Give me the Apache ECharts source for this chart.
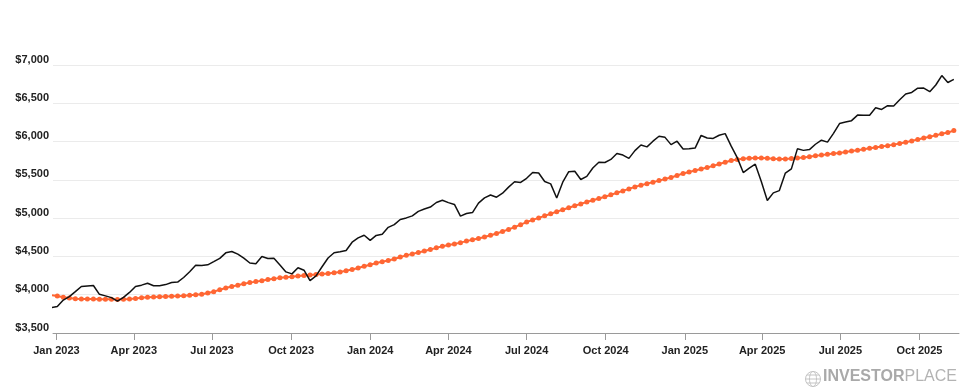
<!DOCTYPE html>
<html><head><meta charset="utf-8">
<script src="https://cdn.jsdelivr.net/npm/echarts@6/dist/echarts.min.js"></script>
<style>html,body{margin:0;padding:0;background:#fff}#c{width:975px;height:390px}</style>
</head><body><div id="c"></div>
<script>
// Weekly points (week starting Monday), first week below
const firstWeek = '2022-12-26';

// S&P 500 weekly level (black line)
const closes = [
  3830, 3845, 3930, 3975, 4040, 4108, 4115, 4120, 4005, 3985,
  3962, 3915, 3965, 4030, 4108, 4125, 4150, 4117, 4117, 4132,
  4159, 4165, 4225, 4300, 4384, 4380, 4390, 4432, 4475, 4547,
  4565, 4530, 4478, 4414, 4405, 4498, 4472, 4475, 4388, 4298,
  4272, 4352, 4320, 4185, 4245, 4365, 4480, 4548, 4562, 4578,
  4686, 4742, 4777,
  4709, 4774, 4790, 4880, 4915, 4983, 5003, 5030, 5088, 5119,
  5145, 5204, 5233, 5203, 5179, 5026, 5060, 5073, 5196, 5265,
  5302, 5273, 5326, 5405, 5475, 5467, 5520, 5597, 5590, 5478,
  5448, 5262, 5470, 5606, 5612, 5505, 5545, 5655, 5730, 5727,
  5767, 5845, 5824, 5780, 5882, 5956, 5931, 6005, 6070, 6055,
  5960, 6005, 5902,
  5907, 5915, 6080, 6046, 6041, 6083, 6104, 5940, 5790, 5595,
  5652, 5704, 5478, 5230, 5330, 5360, 5588, 5643, 5905, 5885,
  5895, 5965, 6018, 5993, 6108, 6235, 6255, 6273, 6346, 6343,
  6345, 6442, 6420, 6469, 6465, 6547, 6622, 6642, 6697, 6698,
  6652, 6739, 6862, 6772, 6812
];

// Moving average (orange dotted line)
const movingAvg = [
  3995, 3982, 3966, 3958, 3947, 3945, 3944, 3943, 3942, 3941,
  3940, 3938, 3940, 3944, 3952, 3960, 3966, 3970, 3974, 3977,
  3980, 3982, 3986, 3992, 3999, 4006, 4022, 4040, 4065, 4088,
  4108, 4125, 4143, 4158, 4171, 4183, 4198, 4207, 4220, 4228,
  4236, 4244, 4252, 4259, 4265, 4271, 4277, 4286, 4297, 4313,
  4329, 4350, 4372, 4392, 4413, 4430, 4446, 4467, 4492, 4514,
  4533, 4552, 4571, 4591, 4612, 4632, 4650, 4663, 4680, 4700,
  4719, 4735, 4753, 4776, 4799, 4825, 4853, 4882, 4915, 4948,
  4977, 5003, 5030, 5058, 5085, 5110, 5135, 5161, 5186, 5210,
  5234, 5257, 5280, 5304, 5331, 5356, 5382, 5408, 5431, 5450,
  5470, 5490, 5510, 5530, 5557, 5584, 5603, 5622, 5642, 5661,
  5683, 5708, 5730, 5752, 5765, 5775, 5781, 5784, 5784, 5781,
  5775, 5772, 5772, 5778, 5785, 5792, 5803, 5814, 5823, 5833,
  5843, 5852, 5864, 5877, 5888, 5900, 5912, 5923, 5935, 5947,
  5960, 5975, 5990, 6009, 6028, 6046, 6062, 6081, 6101, 6118,
  6143
];

const tickDates = ['2023-01-01','2023-04-01','2023-07-01','2023-10-01',
  '2024-01-01','2024-04-01','2024-07-01','2024-10-01',
  '2025-01-01','2025-04-01','2025-07-01','2025-10-01'];
const tickLabels = ['Jan 2023','Apr 2023','Jul 2023','Oct 2023',
  'Jan 2024','Apr 2024','Jul 2024','Oct 2024',
  'Jan 2025','Apr 2025','Jul 2025','Oct 2025'];
const axisStart = '2022-12-28';
const axisEnd = '2025-11-16';

function ts(s){ const p = s.split('-'); return Date.UTC(+p[0], +p[1]-1, +p[2]); }
const WEEK = 7 * 864e5;
const weekTs = closes.map((_, i) => ts(firstWeek) + i * WEEK);
const tickTs = tickDates.map(ts);

const FONT = "'Liberation Sans', Arial, sans-serif";
const chart = echarts.init(document.getElementById('c'), null, {renderer: 'canvas'});
chart.setOption({
  animation: false,
  backgroundColor: '#ffffff',
  grid: {left: 53, right: 16, top: 65, bottom: 57, containLabel: false},
  xAxis: {
    type: 'value',
    min: ts(axisStart),
    max: ts(axisEnd),
    axisLine: {show: true, lineStyle: {color: '#9a9a9a', width: 1}},
    axisTick: {show: true, customValues: tickTs, length: 7, lineStyle: {color: '#9a9a9a', width: 1}},
    axisLabel: {
      customValues: tickTs,
      formatter: function (v) {
        let best = 0, bd = Infinity;
        tickTs.forEach((t, i) => { const d = Math.abs(t - v); if (d < bd) { bd = d; best = i; } });
        return tickLabels[best];
      },
      color: '#222', fontWeight: 'bold', fontSize: 11, fontFamily: FONT, margin: 12
    },
    splitLine: {show: false}
  },
  yAxis: {
    type: 'value',
    min: 3500, max: 7000, interval: 500,
    axisLine: {show: false},
    axisTick: {show: false},
    axisLabel: {
      formatter: v => '$' + v.toLocaleString('en-US'),
      color: '#222', fontWeight: 'bold', fontSize: 11, fontFamily: FONT,
      margin: 4, verticalAlign: 'bottom'
    },
    splitLine: {lineStyle: {color: '#ebebeb', width: 1}}
  },
  series: [
    {
      name: 'Moving average',
      type: 'line',
      data: weekTs.map((t, i) => [t, movingAvg[i]]),
      symbol: 'circle', symbolSize: 5, showSymbol: true, showAllSymbol: true,
      lineStyle: {color: '#ff6633', width: 2},
      itemStyle: {color: '#ff6633', borderWidth: 0},
      z: 2
    },
    {
      name: 'S&P 500',
      type: 'line',
      data: weekTs.map((t, i) => [t, closes[i]]),
      symbol: 'none',
      lineStyle: {color: '#111111', width: 1.5},
      z: 3
    }
  ],
  graphic: [
    {
      type: 'group', left: 803, top: 369,
      children: [
        {type: 'circle', shape: {cx: 8, cy: 8, r: 7.5}, style: {fill: 'none', stroke: '#c4c4c4', lineWidth: 1}},
        {type: 'ellipse', shape: {cx: 8, cy: 8, rx: 3.5, ry: 7.5}, style: {fill: 'none', stroke: '#c4c4c4', lineWidth: 1}},
        {type: 'line', shape: {x1: 0.5, y1: 8, x2: 15.5, y2: 8}, style: {stroke: '#c4c4c4', lineWidth: 1}},
        {type: 'line', shape: {x1: 2, y1: 4, x2: 14, y2: 4}, style: {stroke: '#c4c4c4', lineWidth: 1}},
        {type: 'line', shape: {x1: 2, y1: 12, x2: 14, y2: 12}, style: {stroke: '#c4c4c4', lineWidth: 1}}
      ]
    },
    {
      type: 'text', left: 823, top: 369,
      style: {
        text: '{b|INVESTOR}{r|PLACE}',
        rich: {
          b: {fontFamily: FONT, fontSize: 16, fontWeight: 'bold', fill: '#a9a9a9'},
          r: {fontFamily: FONT, fontSize: 16, fontWeight: 'normal', fill: '#b3b3b3'}
        }
      }
    }
  ]
});
</script>
</body></html>
